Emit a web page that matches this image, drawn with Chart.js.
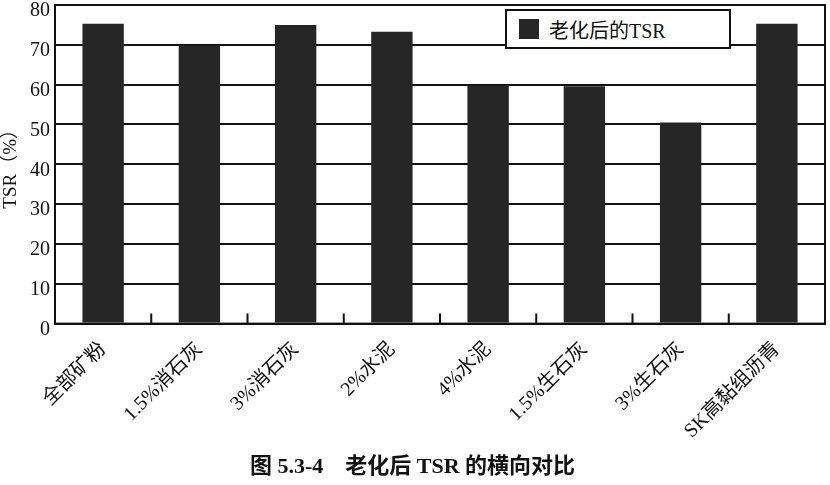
<!DOCTYPE html>
<html>
<head>
<meta charset="utf-8">
<script src="https://cdn.jsdelivr.net/npm/chart.js@4/dist/chart.umd.min.js"></script>
<style>
  html, body { margin: 0; padding: 0; background: #fff; }
  .wrap { position: relative; width: 830px; height: 485px; }
  .legend {
    position: absolute; left: 505px; top: 9px; width: 226px; height: 40px;
    border: 2px solid #111; background: #fff; box-sizing: border-box;
    font-family: "Liberation Serif", "Noto Sans CJK SC", serif; font-size: 20px; color: #111;
    display: flex; align-items: center;
  }
  .legend .sw { width: 20px; height: 20px; margin: 0 10px 0 12px; }
</style>
</head>
<body>
<div class="wrap">
  <canvas id="tsrChart" width="830" height="485"></canvas>
  <div class="legend" id="legend"></div>
</div>
<script>
const categories = ["全部矿粉", "1.5%消石灰", "3%消石灰", "2%水泥", "4%水泥", "1.5%生石灰", "3%生石灰", "SK高黏组沥青"];
const tsrAged = [75.3, 69.8, 75.0, 73.3, 59.8, 59.6, 50.5, 75.3];
const yMin = 0, yMax = 80, yStep = 10;

const seriesLabel = "老化后的TSR";
const barColor = "#262626";
const serif = "'Liberation Serif', 'Noto Sans CJK SC', serif";

// frame round the plot + little inside ticks between categories
const framePlugin = {
  id: "frame",
  afterDatasetsDraw(chart) {
    const { ctx, chartArea: a, scales: { x } } = chart;
    ctx.save();
    ctx.strokeStyle = "#111";
    ctx.lineWidth = 2;
    ctx.strokeRect(a.left, a.top, a.right - a.left, a.bottom - a.top);
    ctx.beginPath();
    for (let i = 1; i < categories.length; i++) {
      const bx = (x.getPixelForValue(i - 1) + x.getPixelForValue(i)) / 2;
      ctx.moveTo(bx, a.bottom);
      ctx.lineTo(bx, a.bottom - 10);
    }
    ctx.stroke();
    ctx.restore();
  },
};

const ctx = document.getElementById("tsrChart").getContext("2d");
const tsrChart = new Chart(ctx, {
  type: "bar",
  data: {
    labels: categories,
    datasets: [
      {
        label: seriesLabel,
        data: tsrAged,
        backgroundColor: barColor,
        borderWidth: 0,
        barPercentage: 0.43,
        categoryPercentage: 1.0,
      },
    ],
  },
  options: {
    responsive: false,
    animation: false,
    layout: { padding: { top: 5, right: 5, left: 0, bottom: 0 } },
    scales: {
      y: {
        min: yMin,
        max: yMax,
        ticks: {
          stepSize: yStep,
          color: "#111",
          padding: 5,
          labelOffset: 6,
          font: { size: 20, family: serif },
        },
        grid: { color: "#111", lineWidth: 2, drawTicks: false },
        border: { color: "#111", width: 2 },
        title: {
          display: true,
          text: "TSR（%）",
          color: "#111",
          padding: { top: 0, bottom: 0 },
          font: { size: 19, family: serif },
        },
        afterFit(scale) {
          scale.width = 55;
          scale.paddingTop = 0;
        },
      },
      x: {
        grid: { display: false },
        border: { color: "#111", width: 2 },
        ticks: {
          color: "#111",
          minRotation: 45,
          maxRotation: 45,
          padding: 6,
          font: { size: 20, family: serif },
        },
        afterFit(scale) {
          scale.height = 131;
        },
      },
    },
    plugins: {
      legend: { display: false },
      tooltip: { enabled: false },
      title: {
        display: true,
        position: "bottom",
        text: "图 5.3-4    老化后 TSR 的横向对比",
        color: "#111",
        padding: { top: 0, bottom: 4 },
        font: { size: 22, weight: "bold", family: serif },
      },
    },
  },
  plugins: [framePlugin],
});

// html legend built from the dataset
const legendBox = document.getElementById("legend");
tsrChart.data.datasets.forEach((ds) => {
  const sw = document.createElement("span");
  sw.className = "sw";
  sw.style.background = ds.backgroundColor;
  const txt = document.createElement("span");
  txt.textContent = ds.label;
  legendBox.appendChild(sw);
  legendBox.appendChild(txt);
});
</script>
</body>
</html>
